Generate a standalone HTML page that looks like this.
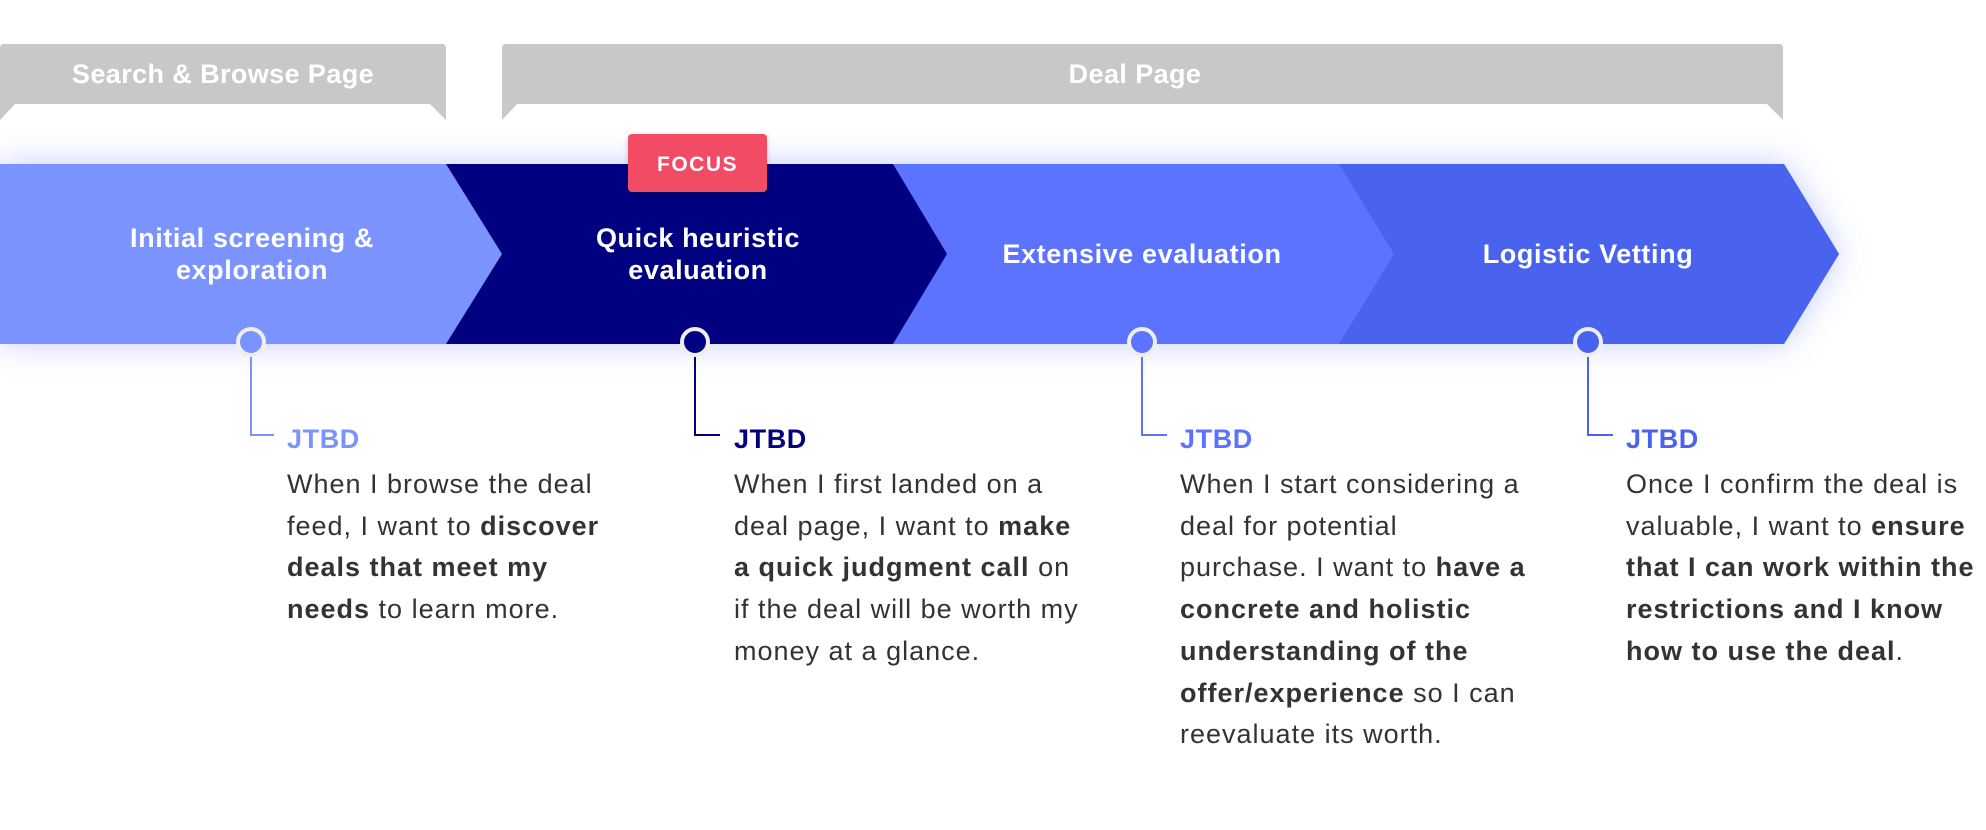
<!DOCTYPE html>
<html><head><meta charset="utf-8"><style>
html,body{margin:0;padding:0;background:#fff;width:1986px;height:830px;overflow:hidden;position:relative;font-family:"Liberation Sans",Arial,sans-serif}
svg{position:absolute;left:0;top:0}
.lbl{position:absolute;color:#fff;font-weight:bold;font-size:27px;letter-spacing:0.6px;line-height:32px;text-align:center;white-space:nowrap;transform:translateX(-50%)}
.col{position:absolute;top:422px;white-space:nowrap}
.col h4{margin:0;font-size:27px;letter-spacing:0.6px;line-height:34px;font-weight:bold}
.col p{margin:8px 0 0;font-size:27px;letter-spacing:1px;line-height:41.7px;color:#333}
.col b{color:#333}
</style></head><body>
<svg width="1986" height="830" viewBox="0 0 1986 830">
<defs>
<filter id="sh" x="-60%" y="-60%" width="220%" height="220%"><feDropShadow dx="0" dy="0" stdDeviation="16" flood-color="#5b73ff" flood-opacity="0.35"/></filter>
<filter id="bs" x="-20%" y="-20%" width="140%" height="160%"><feDropShadow dx="0" dy="2" stdDeviation="3" flood-color="#000" flood-opacity="0.2"/></filter>
</defs>
<path d="M4,44 H442 Q446,44 446,48 V120 L430,104 H15 L0,120 V48 Q0,44 4,44Z" fill="#c8c8c8"/>
<path d="M506,44 H1779 Q1783,44 1783,48 V120 L1767,104 H517 L502,120 V48 Q502,44 506,44Z" fill="#c8c8c8"/>
<text x="223" y="83" fill="#fff" font-size="27" letter-spacing="0.4" font-weight="bold" text-anchor="middle" font-family="Liberation Sans, sans-serif">Search &amp; Browse Page</text>
<text x="1135" y="83" fill="#fff" font-size="27" letter-spacing="0.4" font-weight="bold" text-anchor="middle" font-family="Liberation Sans, sans-serif">Deal Page</text>
<g filter="url(#sh)">
<path d="M0,164 H1784 L1839,254 L1784,344 H0Z" fill="#4a63ef"/>
</g>
<path d="M0,164 H1784 L1839,254 L1784,344 H0Z" fill="#4a63ef"/>
<path d="M0,164 H1339 L1394,254 L1339,344 H0Z" fill="#5b73ff"/>
<path d="M0,164 H893 L947,254 L893,344 H0Z" fill="#000080"/>
<path d="M0,164 H446 L502,254 L446,344 H0Z" fill="#7b93ff"/>
<rect x="628" y="134" width="139" height="58" rx="4" fill="#f24b65" filter="url(#bs)"/>
<text x="697.5" y="171" fill="#fff" font-size="21" font-weight="bold" text-anchor="middle" letter-spacing="1.5" font-family="Liberation Sans, sans-serif">FOCUS</text>
<g stroke-width="2" fill="none">
<path d="M251,350 V435 H274" stroke="#7b93ff"/>
<path d="M695,350 V435 H720" stroke="#000080"/>
<path d="M1142,350 V435 H1167" stroke="#5b73ff"/>
<path d="M1588,350 V435 H1613" stroke="#4a63ef"/>
</g>
<circle cx="251" cy="342" r="13" fill="#7b93ff" stroke="#eeeeee" stroke-width="4"/>
<circle cx="695" cy="342" r="13" fill="#000080" stroke="#eeeeee" stroke-width="4"/>
<circle cx="1142" cy="342" r="13" fill="#5b73ff" stroke="#eeeeee" stroke-width="4"/>
<circle cx="1588" cy="342" r="13" fill="#4a63ef" stroke="#eeeeee" stroke-width="4"/>
</svg>
<div class="lbl" style="left:252px;top:222px">Initial screening &amp;<br>exploration</div>
<div class="lbl" style="left:698px;top:222px">Quick heuristic<br>evaluation</div>
<div class="lbl" style="left:1142px;top:238px">Extensive evaluation</div>
<div class="lbl" style="left:1588px;top:238px">Logistic Vetting</div>

<div class="col" style="left:287px"><h4 style="color:#7b93ff">JTBD</h4>
<p>When I browse the deal<br>feed, I want to <b>discover</b><br><b>deals that meet my</b><br><b>needs</b> to learn more.</p></div>
<div class="col" style="left:734px"><h4 style="color:#000080">JTBD</h4>
<p>When I first landed on a<br>deal page, I want to <b>make</b><br><b>a quick judgment call</b> on<br>if the deal will be worth my<br>money at a glance.</p></div>
<div class="col" style="left:1180px"><h4 style="color:#5b73ff">JTBD</h4>
<p>When I start considering a<br>deal for potential<br>purchase. I want to <b>have a</b><br><b>concrete and holistic</b><br><b>understanding of the</b><br><b>offer/experience</b> so I can<br>reevaluate its worth.</p></div>
<div class="col" style="left:1626px"><h4 style="color:#4a63ef">JTBD</h4>
<p>Once I confirm the deal is<br>valuable, I want to <b>ensure</b><br><b>that I can work within the</b><br><b>restrictions and I know</b><br><b>how to use the deal</b>.</p></div>
</body></html>
